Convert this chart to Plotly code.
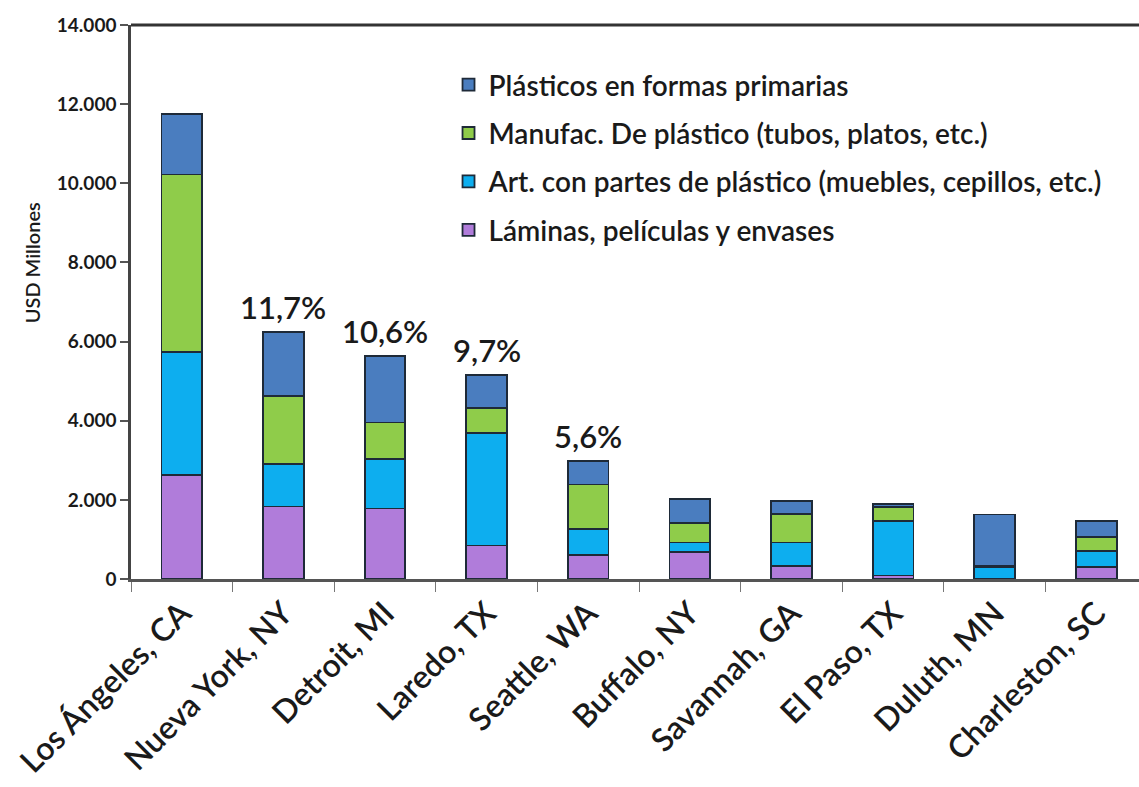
import numpy as np
import plotly.graph_objects as go

# Ports of entry (x categories)
puertos = ["Los Ángeles, CA", "Nueva York, NY", "Detroit, MI", "Laredo, TX",
           "Seattle, WA", "Buffalo, NY", "Savannah, GA", "El Paso, TX",
           "Duluth, MN", "Charleston, SC"]

# Import values by product group, USD millions (stack order bottom -> top)
laminas = [2630, 1830, 1780, 845, 600, 675, 330, 90, 10, 310]
articulos = [3110, 1080, 1250, 2845, 665, 245, 590, 1385, 290, 405]
manufacturas = [4480, 1720, 925, 630, 1125, 505, 730, 340, 20, 340]
primarias = [1540, 1620, 1685, 840, 595, 595, 330, 80, 1310, 415]

# Share labels shown over the leading ports
participacion = ["", "11,7%", "10,6%", "9,7%", "5,6%", "", "", "", "", ""]

y_ticks = [0, 2000, 4000, 6000, 8000, 10000, 12000, 14000]

# (name, values, colour, legend position from the top)
series = [
    ("Láminas, películas y envases", laminas, "#B07CDA", 4),
    ("Art. con partes de plástico (muebles, cepillos, etc.)", articulos, "#0DAEEF", 3),
    ("Manufac. De plástico (tubos, platos, etc.)", manufacturas, "#8FCC4A", 2),
    ("Plásticos en formas primarias", primarias, "#4A7DBF", 1),
]

FONT = "Lato"
INK = "#1a1a1a"
fig = go.Figure()
for nombre, valores, color, rango in series:
    fig.add_trace(go.Bar(
        x=puertos, y=valores, name=nombre, legendgroup=nombre, legendrank=rango,
        marker=dict(color=color, line=dict(color="#1E2A38", width=1.8)),
        width=0.4,
    ))

totales = np.sum([laminas, articulos, manufacturas, primarias], axis=0)
for puerto, total, texto in zip(puertos, totales, participacion):
    if texto:
        fig.add_annotation(x=puerto, y=total, text=texto, showarrow=False,
                           yanchor="bottom", yshift=4,
                           font=dict(family=FONT, size=31, color=INK, weight=600))

fig.add_annotation(xref="paper", yref="paper", x=-0.112, y=0.57,
                   text="USD Millones", textangle=-90, showarrow=False,
                   font=dict(family=FONT, size=20, color=INK, weight=600))

# top frame line of the plot area
fig.add_shape(type="line", xref="paper", yref="paper", x0=0, x1=1, y0=1, y1=1,
              line=dict(color="#333", width=3))

fig.update_layout(
    width=1139, height=787,
    margin=dict(l=131, r=0, t=25, b=208),
    barmode="stack",
    plot_bgcolor="white", paper_bgcolor="white",
    separators=",.",
    showlegend=True,
    legend=dict(x=0.315, y=0.937, xanchor="left", yanchor="top",
                traceorder="grouped", tracegroupgap=9, itemwidth=30,
                font=dict(family=FONT, size=28, color=INK, weight=600),
                bgcolor="rgba(0,0,0,0)"),
    xaxis=dict(range=[-0.5, 9.42], tickson="boundaries", ticks="outside",
               ticklen=10, tickwidth=1, tickcolor="#777",
               showline=True, linecolor="#555", linewidth=2.5,
               tickangle=-45, automargin=False,
               tickfont=dict(family=FONT, size=32, color=INK, weight=600),
               showgrid=False),
    yaxis=dict(range=[0, 14000], tickvals=y_ticks, tickformat=",d",
               ticks="outside", ticklen=8, tickwidth=1.5, tickcolor="#555",
               showline=True, linecolor="#444", linewidth=2.5, automargin=False,
               tickfont=dict(family=FONT, size=19, color=INK, weight=700),
               showgrid=False, zeroline=False),
)

fig.write_html("out.html")
